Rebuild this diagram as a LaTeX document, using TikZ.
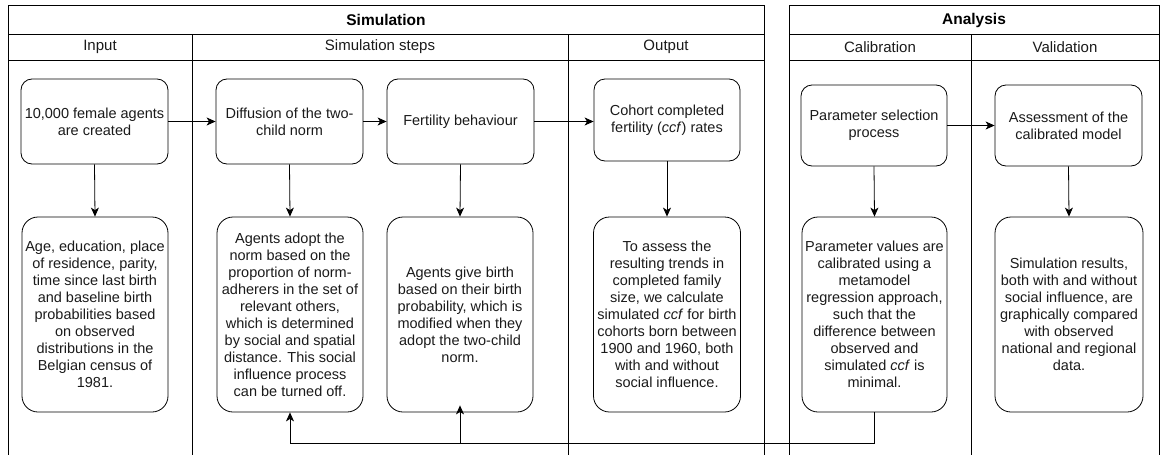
\documentclass[tikz,border=0pt]{standalone}
\usepackage{fontspec}
\setmainfont{Liberation Sans}
\usetikzlibrary{arrows.meta}
\definecolor{txt}{HTML}{1A1A1A}
\tikzset{
  lane/.style={line width=1pt, draw=black},
  box/.style={draw=black, line width=0.8pt, rounded corners=11pt, align=center, text=txt,
    font=\fontsize{14.5}{17}\selectfont, inner sep=0pt},
  bigbox/.style={box, rounded corners=16pt},
  head/.style={font=\fontsize{15.5}{18}\selectfont\bfseries, text=black},
  subhead/.style={font=\fontsize{15}{18}\selectfont, text=txt},
  arr/.style={line width=0.8pt, -{Stealth[length=9pt,width=8pt,inset=2.5pt]}},
}
\begin{document}
\begin{tikzpicture}[x=1pt,y=-1pt]
\useasboundingbox (0,0) rectangle (1162,455);
% Simulation pool
\draw[lane] (8,456) -- (8,5) -- (764,5) -- (764,456);
\draw[lane] (8,34) -- (764,34);
\draw[lane] (8,60) -- (764,60);
\draw[lane] (192,34) -- (192,456);
\draw[lane] (568,34) -- (568,456);
% Analysis pool
\draw[lane] (789,456) -- (789,5) -- (1159,5) -- (1159,456);
\draw[lane] (789,34) -- (1159,34);
\draw[lane] (789,60) -- (1159,60);
\draw[lane] (971,34) -- (971,456);
% headers
\node[head] (hsim) at (386,20) {Simulation};
\node[head] (hana) at (974,20) {Analysis};
\node[subhead] (hin) at (100,47) {Input};
\node[subhead] (hsteps) at (380,47) {Simulation steps};
\node[subhead] (hout) at (666,47) {Output};
\node[subhead] (hcal) at (880,47) {Calibration};
\node[subhead] (hval) at (1065,47) {Validation};
% top boxes
\node[box, minimum width=147pt, minimum height=85pt] (t1) at (94.5,121.5) {10,000 female agents\\are created};
\node[box, minimum width=147pt, minimum height=85pt] (t2) at (289.5,121.5) {Diffusion of the two-\\child norm};
\node[box, minimum width=147pt, minimum height=85pt] (t3) at (460.5,121.5) {Fertility behaviour};
\node[box, minimum width=146pt, minimum height=82pt] (t4) at (667,120) {Cohort completed\\fertility (\textit{ccf}) rates};
\node[box, minimum width=146pt, minimum height=81pt] (t5) at (874,125.5) {Parameter selection\\process};
\node[box, minimum width=147pt, minimum height=81pt] (t6) at (1068.5,125.5) {Assessment of the\\calibrated model};
% bottom boxes
\node[bigbox, minimum width=146pt, minimum height=195pt] (bA) at (95,314.5) {Age, education, place\\of residence, parity,\\time since last birth\\and baseline birth\\probabilities based\\on observed\\distributions in the\\Belgian census of\\1981.};
\node[bigbox, minimum width=146pt, minimum height=195pt] (bB) at (290,314.5) {Agents adopt the\\norm based on the\\proportion of norm-\\adherers in the set of\\relevant others,\\which is determined\\by social and spatial\\distance. This social\\influence process\\can be turned off.};
\node[bigbox, minimum width=146pt, minimum height=195pt] (bC) at (460,314.5) {Agents give birth\\based on their birth\\probability, which is\\modified when they\\adopt the two-child\\norm.};
\node[bigbox, minimum width=147pt, minimum height=195pt] (bD) at (667,314.5) {To assess the\\resulting trends in\\completed family\\size, we calculate\\simulated \textit{ccf} for birth\\cohorts born between\\1900 and 1960, both\\with and without\\social influence.};
\node[bigbox, minimum width=145pt, minimum height=195pt] (bE) at (874.5,314.5) {Parameter values are\\calibrated using a\\metamodel\\regression approach,\\such that the\\difference between\\observed and\\simulated \textit{ccf} is\\minimal.};
\node[bigbox, minimum width=148pt, minimum height=195pt] (bF) at (1069,314.5) {Simulation results,\\both with and without\\social influence, are\\graphically compared\\with observed\\national and regional\\data.};
% horizontal arrows
\draw[arr] (t1.east) -- (t2.west);
\draw[arr] (t2.east) -- (t3.west);
\draw[arr] (t3.east) -- (t4.west |- t3.east);
\draw[arr] (t5.east) -- (t6.west);
% vertical arrows
\draw[arr] (t1.south) -- (bA.north);
\draw[arr] (t2.south) -- (bB.north);
\draw[arr] (t3.south) -- (bC.north);
\draw[arr] (t4.south) -- (bD.north);
\draw[arr] (t5.south) -- (bE.north);
\draw[arr] (t6.south) -- (bF.north);
% feedback
\coordinate (fb) at (874.5,443);
\draw[arr] (bE.south) -- (fb) -| (bB.south);
\draw[arr] (fb) -| ([yshift=7pt]bC.south);
\end{tikzpicture}
\end{document}
